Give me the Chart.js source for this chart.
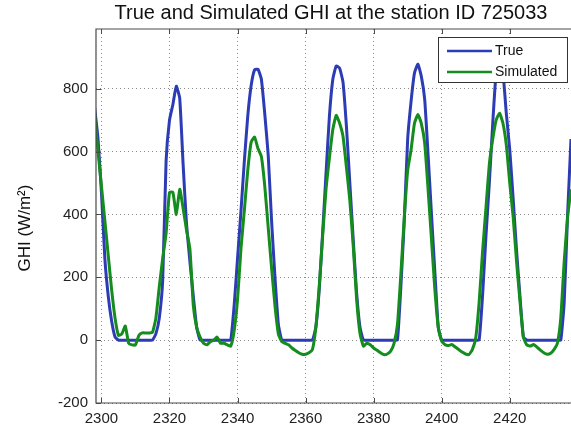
<!DOCTYPE html>
<html>
<head>
<meta charset="utf-8">
<script src="https://cdn.jsdelivr.net/npm/chart.js@4"></script>
<style>
  html, body { margin: 0; padding: 0; background: #fff; }
  #wrap { width: 571px; height: 432px; }
</style>
</head>
<body>
<div id="wrap"><canvas id="ghi-chart" width="571" height="432"></canvas></div>
<script>
// hours 2298..2438
const hours = [];
for (let h = 2298; h <= 2438; h++) hours.push(h);

const trueGhi = [
  740, 640, 470, 260, 140, 60, 10, 0, 0, 0,
  0, 0, 0, 0, 0, 0, 0, 0, 20, 70,
  190, 570, 700, 750, 808, 770, 560, 370, 250, 140,
  40, 0, 0, 0, 0, 0, 0, 0, 0, 0,
  0, 110, 260, 410, 570, 713, 810, 860, 862, 830,
  720, 590, 380, 200, 50, 0, 0, 0, 0, 0,
  0, 0, 0, 0, 0, 40, 160, 340, 530, 713,
  830, 872, 865, 820, 680, 500, 320, 150, 40, 0,
  0, 0, 0, 0, 0, 0, 0, 0, 0, 0,
  170, 380, 640, 760, 850, 878, 840, 766, 590, 400,
  215, 40, 0, 0, 0, 0, 0, 0, 0, 0,
  0, 0, 0, 0, 140, 330, 500, 690, 850, 875,
  850, 720, 606, 450, 285, 140, 10, 0, 0, 0,
  0, 0, 0, 0, 0, 0, 0, 0, 120, 400,
  640
];

const simGhi = [
  720, 600, 490, 380, 270, 160, 70, 15, 20, 45,
  -10, -15, -15, 15, 23, 23, 23, 25, 70, 170,
  260, 340, 470, 470, 400, 480, 420, 350, 290, 110,
  40, 10, -10, -15, -5, 0, 10, -10, -10, -15,
  -19, 30, 130, 290, 413, 540, 630, 646, 610, 584,
  490, 360, 230, 110, 20, -5, -10, -15, -25, -33,
  -40, -45, -45, -40, -30, 40, 170, 330, 480, 580,
  670, 715, 690, 648, 550, 445, 300, 130, 20, -19,
  -10, -15, -25, -32, -40, -46, -44, -35, -10, 50,
  210, 390, 540, 606, 690, 718, 690, 627, 480, 320,
  160, 40, -3, -15, -17, -14, -22, -30, -38, -44,
  -46, -30, 7, 120, 280, 420, 560, 640, 700, 722,
  690, 620, 500, 392, 250, 125, 10, -15, -19, -14,
  -22, -32, -40, -45, -42, -30, -10, 71, 250, 392,
  480
];

const xTicks = [2300, 2320, 2340, 2360, 2380, 2400, 2420];
const yTicks = [-200, 0, 200, 400, 600, 800];

const titleText = "True and Simulated GHI at the station ID 725033";
const yLabel = "GHI (W/m²)";

const BLUE = "#2c3cb4";
const GREEN = "#148c1e";
const FONT = "'Liberation Sans', Arial, sans-serif";

// box, inside ticks, title, y label, legend
const matlabLook = {
  id: "matlabLook",
  afterDraw(chart) {
    const { ctx, chartArea: a, scales } = chart;
    ctx.save();
    ctx.strokeStyle = "#4a4a4a";
    ctx.lineWidth = 1.2;
    ctx.beginPath();
    ctx.moveTo(a.right + 2, a.top);
    ctx.lineTo(a.left, a.top);
    ctx.lineTo(a.left, a.bottom);
    ctx.lineTo(a.right + 2, a.bottom);
    ctx.stroke();

    ctx.lineWidth = 1;
    ctx.beginPath();
    xTicks.forEach((t) => {
      const x = Math.round(scales.x.getPixelForValue(t)) + 0.5;
      ctx.moveTo(x, a.bottom); ctx.lineTo(x, a.bottom - 5);
      ctx.moveTo(x, a.top); ctx.lineTo(x, a.top + 5);
    });
    yTicks.forEach((t) => {
      const y = Math.round(scales.y.getPixelForValue(t)) + 0.5;
      ctx.moveTo(a.left, y); ctx.lineTo(a.left + 5, y);
    });
    ctx.stroke();

    // title
    ctx.fillStyle = "#111";
    ctx.font = "20px " + FONT;
    ctx.textAlign = "center";
    ctx.textBaseline = "middle";
    ctx.fillText(titleText, 331, 13);

    // y label
    ctx.save();
    ctx.translate(25, 228);
    ctx.rotate(-Math.PI / 2);
    ctx.font = "17px " + FONT;
    ctx.fillText(yLabel, 0, 0);
    ctx.restore();

    // legend
    const lx = 438, ly = 37, lw = 129, lh = 45;
    ctx.fillStyle = "#fff";
    ctx.fillRect(lx, ly, lw, lh);
    ctx.strokeStyle = "#333";
    ctx.lineWidth = 1;
    ctx.strokeRect(lx + 0.5, ly + 0.5, lw, lh);
    ctx.font = "14px " + FONT;
    ctx.textAlign = "left";
    chart.data.datasets.forEach((ds, i) => {
      const y = ly + 14 + i * 21;
      ctx.strokeStyle = ds.borderColor;
      ctx.lineWidth = 2.5;
      ctx.beginPath();
      ctx.moveTo(lx + 9, y);
      ctx.lineTo(lx + 54, y);
      ctx.stroke();
      ctx.fillStyle = "#111";
      ctx.fillText(ds.label, lx + 57, y);
    });
    ctx.restore();
  },
};

new Chart(document.getElementById("ghi-chart"), {
  type: "line",
  data: {
    datasets: [
      {
        label: "True",
        data: hours.map((h, i) => ({ x: h, y: trueGhi[i] })),
        borderColor: BLUE,
        borderWidth: 3,
        pointRadius: 0,
        tension: 0.15,
        order: 2,
      },
      {
        label: "Simulated",
        data: hours.map((h, i) => ({ x: h, y: simGhi[i] })),
        borderColor: GREEN,
        borderWidth: 3,
        pointRadius: 0,
        tension: 0.15,
        order: 1,
      },
    ],
  },
  options: {
    responsive: false,
    animation: false,
    layout: { padding: { top: 29, right: 0, left: 0, bottom: 0 } },
    plugins: {
      legend: { display: false },
      title: { display: false },
      tooltip: { enabled: false },
    },
    scales: {
      x: {
        type: "linear",
        min: 2298.4,
        max: 2438,
        afterBuildTicks: (s) => { s.ticks = xTicks.map((v) => ({ value: v })); },
        afterFit: (s) => { s.height = 29; },
        ticks: {
          color: "#222",
          font: { family: FONT, size: 15 },
          padding: 7,
          maxRotation: 0,
          callback: (v) => String(v),
        },
        grid: { color: "#8a8a8a", lineWidth: 1, drawTicks: false },
        border: { display: false, dash: [1, 3] },
      },
      y: {
        min: -200,
        max: 990,
        afterBuildTicks: (s) => { s.ticks = yTicks.map((v) => ({ value: v })); },
        afterFit: (s) => { s.width = 96; },
        ticks: {
          color: "#222",
          font: { family: FONT, size: 15 },
          padding: 8,
          callback: (v) => String(v),
        },
        grid: { color: "#8a8a8a", lineWidth: 1, drawTicks: false },
        border: { display: false, dash: [1, 3] },
      },
    },
  },
  plugins: [matlabLook],
});
</script>
</body>
</html>
